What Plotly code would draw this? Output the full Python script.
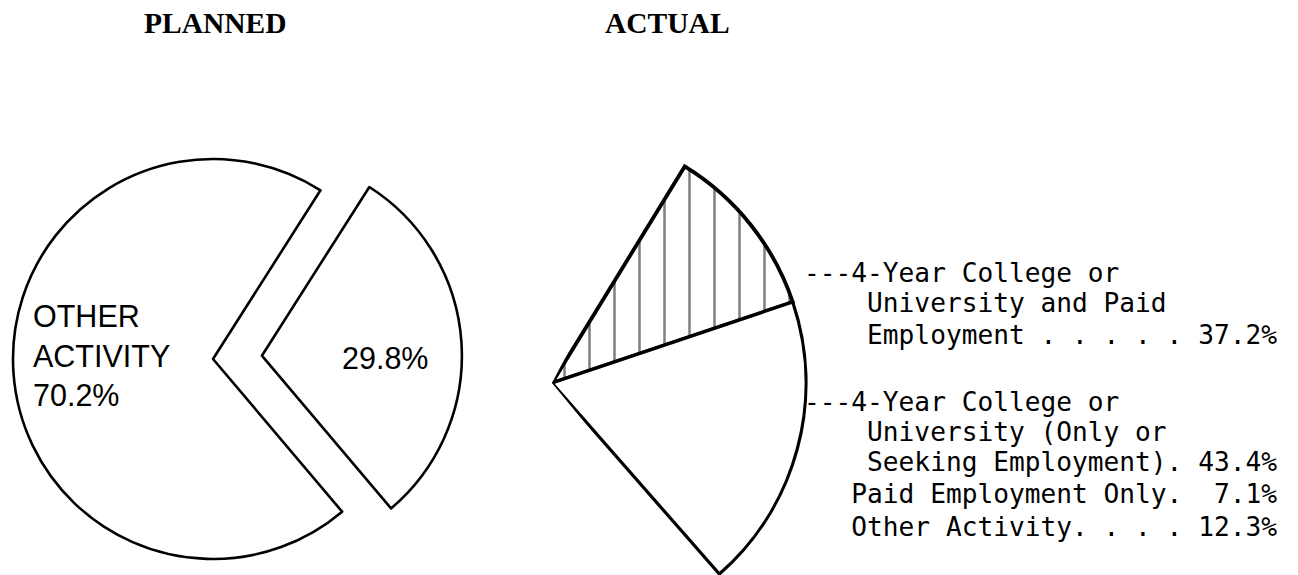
import math
import plotly.graph_objects as go

W, H = 1298, 575
PAGE_OFF = 8        # browser body margin in front of the plot div

# ---- data -------------------------------------------------------------
planned_labels = ["4-Year College or University", "Other Activity"]
planned_values = [29.8, 70.2]

actual_labels = [
    "4-Year College or University and Paid Employment",
    "4-Year College or University (Only or Seeking Employment)",
    "Paid Employment Only",
    "Other Activity",
]
actual_values = [37.2, 43.4, 7.1, 12.3]

# how each actual label is broken into typewriter lines ({} = value)
actual_text = [
    ["---4-Year College or", "    University and Paid", "    Employment . . . . . {}"],
    ["---4-Year College or", "    University (Only or", "    Seeking Employment). {}"],
    ["   Paid Employment Only. {}"],
    ["   Other Activity. . . . {}"],
]

# ---- layout helpers (page pixels -> paper fractions) --------------------
def px(x):
    return (x - PAGE_OFF) / W

def py(y):
    return min(1, max(0, 1 - (y - PAGE_OFF) / H))

ROT = 32.5          # first slice starts this many degrees clockwise from 12 o'clock
LINE = 2.6

fig = go.Figure()

# PLANNED pie: whole pie drawn twice, once with each slice visible,
# the small slice shifted outwards along its bisector
cx, cy, r = 213, 359, 200
span = 360 * planned_values[0] / sum(planned_values)
mid = math.radians(90 - ROT - span / 2)
shift = 49
centers = [(cx, cy), (cx + shift * math.cos(mid), cy - shift * math.sin(mid))]
show = [[False, True], [True, False]]

for (x0, y0), vis in zip(centers, show):
    fig.add_trace(go.Pie(
        labels=planned_labels, values=planned_values,
        sort=False, direction="clockwise", rotation=ROT,
        marker=dict(colors=["white" if v else "rgba(0,0,0,0)" for v in vis],
                    line=dict(color="black", width=[LINE if v else 0 for v in vis])),
        textinfo="none", hoverinfo="label+percent", showlegend=False,
        domain=dict(x=[px(x0 - r), px(x0 + r)], y=[py(y0 + r), py(y0 - r)]),
    ))

# ACTUAL wedge: the planned college slice split by outcome
a_x, a_y, a_r = 552, 383, 254
start = 58.5
w_all = span
w_paid = w_all * actual_values[0] / sum(actual_values)
w_rest = w_all - w_paid
end = start - w_all

fig.add_trace(go.Barpolar(
    theta=[start - w_paid / 2, start - w_paid - w_rest / 2],
    width=[w_paid, w_rest],
    r=[1, 1],
    text=[actual_labels[0], "other outcomes"],
    marker=dict(color="white", line=dict(color="black", width=[3.8, 3.2]),
                pattern=dict(shape=["|", ""], size=25, solidity=0.1,
                             fgcolor="black", bgcolor="white")),
    hoverinfo="text", showlegend=False,
))

# polar sector a little wider than the wedge so the outline is not clipped
RMAX = 1.015
sec = [end - 1.8, start + 4]
rp = a_r * RMAX
s_top = math.sin(math.radians(sec[1]))
s_bot = -math.sin(math.radians(sec[0]))
fig.update_layout(polar=dict(
    domain=dict(x=[px(a_x), px(a_x + rp)], y=[py(a_y + rp * s_bot), py(a_y - rp * s_top)]),
    sector=sec,
    bgcolor="rgba(0,0,0,0)",
    radialaxis=dict(visible=False, range=[0, RMAX]),
    angularaxis=dict(visible=False, direction="counterclockwise", rotation=0),
))

# ---- text ---------------------------------------------------------------
ann = []
serif = dict(family="Liberation Serif, Times New Roman, serif", size=29.5, color="black",
             weight="bold")
ann.append(dict(x=px(215), y=py(23), text="PLANNED", font=serif))
ann.append(dict(x=px(667), y=py(23), text="ACTUAL", font=serif))

sans = dict(family="Liberation Sans, Arial, sans-serif", size=30.5, color="black")
other = planned_labels[1].upper().split() + ["%.1f%%" % planned_values[1]]
ann.append(dict(x=px(31), y=py(355), text="<br>".join(other), font=sans,
                xanchor="left", align="left"))
ann.append(dict(x=px(385), y=py(358), text="%.1f%%" % planned_values[0], font=sans))

mono = dict(family="DejaVu Sans Mono, monospace", size=26.2, color="black")
line_y = [[273, 303, 335], [402, 432, 462], [494], [527]]
for lines, ys, v in zip(actual_text, line_y, actual_values):
    for ln, y in zip(lines, ys):
        t = ln.format("%5s" % ("%.1f%%" % v)).replace(" ", "\u00a0")
        ann.append(dict(x=px(802), y=py(y), text=t, font=mono, xanchor="left"))

for a in ann:
    a.setdefault("xanchor", "center")
    a.update(xref="paper", yref="paper", yanchor="middle", showarrow=False)

fig.update_layout(
    width=W, height=H, margin=dict(l=0, r=0, t=0, b=0),
    paper_bgcolor="white", plot_bgcolor="white",
    annotations=ann,
)

fig.write_html("out.html")
